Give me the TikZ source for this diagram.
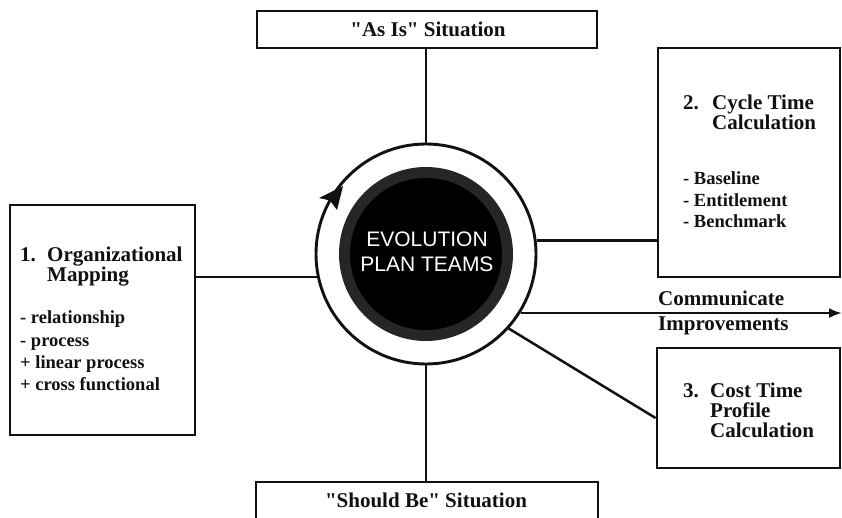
\documentclass[tikz,border=0pt]{standalone}
\usepackage{fontspec}
\setmainfont{Liberation Serif}
\newfontfamily\sansf{Liberation Sans}
\usetikzlibrary{arrows.meta}
\definecolor{ink}{HTML}{111111}
\begin{document}
\begin{tikzpicture}[x=1pt,y=1pt,
  box/.style={draw=ink, line width=2.9pt, inner sep=0pt},
  conn/.style={draw=ink, line width=2.5pt},
  ttl/.style={font=\fontsize{21}{20}\selectfont\bfseries, text=ink, inner sep=0pt, anchor=base west},
  itm/.style={font=\fontsize{18.5}{22}\selectfont\bfseries, text=ink, inner sep=0pt, anchor=base west},
  evo/.style={font=\sansf\fontsize{21}{25}\selectfont, text=white, inner sep=0pt, anchor=base}
]
\useasboundingbox (0,0) rectangle (842,517);
\fill[white] (0,0) rectangle (842,517);

% boxes
\node[box, minimum width=340pt, minimum height=37pt] (top) at (427,487.5) {};
\node[box, minimum width=342pt, minimum height=45pt] (bottom) at (427,12.5) {};
\node[box, minimum width=185pt, minimum height=230pt] (box1) at (102.5,197) {};
\node[box, minimum width=182pt, minimum height=229pt] (box2) at (749,354.5) {};
\node[box, minimum width=183pt, minimum height=120pt] (box3) at (748.5,109) {};

% central ring and disk
\node[circle, draw=ink, line width=2.9pt, minimum size=220pt, inner sep=0pt] (ring) at (426,263) {};
\fill[black!85] (ring.center) circle (87);
\fill[black] (ring.center) circle (76);
% arrowhead on the ring (clockwise)
\fill[ink, shift={(ring.center)}] (-83,68) -- (-107,56) -- (-96,53.5) -- (-89,44) -- cycle;

\node[evo] (evo1) at (427,270) {EVOLUTION};
\node[evo] (evo2) at (427,245) {PLAN TEAMS};

% connectors
\coordinate (cend) at (842,204);
\draw[conn] (ring.north) -- (ring.north |- top.south);
\draw[conn] (ring.south) -- (ring.south |- bottom.north);
\draw[conn] (ring.192) -- (ring.192 -| box1.east);
\draw[conn] (ring.7) -- (ring.7 -| box2.west);
\draw[conn, -{Latex[length=13pt,width=10pt]}] (ring.-32.4) -- (ring.-32.4 -| cend);
\draw[conn] (ring.-42) -- ([yshift=-10pt]box3.west);

% texts
\node[font=\fontsize{21}{20}\selectfont\bfseries, text=ink, inner sep=0pt, anchor=base] (toptxt) at (428,480) {\textquotedbl As Is\textquotedbl\ Situation};
\node[font=\fontsize{21}{20}\selectfont\bfseries, text=ink, inner sep=0pt, anchor=base] (bottxt) at (426,10) {\textquotedbl Should Be\textquotedbl\ Situation};

\node[ttl] (b1n) at (20,255) {1.};
\node[ttl] (b1t) at (47,255) {Organizational};
\node[ttl] (b1m) at (47,235) {Mapping};
\node[itm] (b1a) at (20,194) {- relationship};
\node[itm] (b1b) at (20,171) {- process};
\node[itm] (b1c) at (20,149) {+ linear process};
\node[itm] (b1d) at (20,127) {+ cross functional};

\node[ttl] (b2n) at (683,407) {2.};
\node[ttl] (b2t) at (712,407) {Cycle Time};
\node[ttl] (b2c) at (712,387) {Calculation};
\node[itm] (b2a) at (683,332) {- Baseline};
\node[itm] (b2b) at (683,310) {- Entitlement};
\node[itm] (b2d) at (683,289) {- Benchmark};

\node[ttl] (b3n) at (683,120) {3.};
\node[ttl] (b3t) at (710,120) {Cost Time};
\node[ttl] (b3p) at (710,100) {Profile};
\node[ttl] (b3c) at (710,80) {Calculation};

\node[ttl] (com1) at (658,212) {Communicate};
\node[ttl] (com2) at (658,187) {Improvements};
\end{tikzpicture}
\end{document}
